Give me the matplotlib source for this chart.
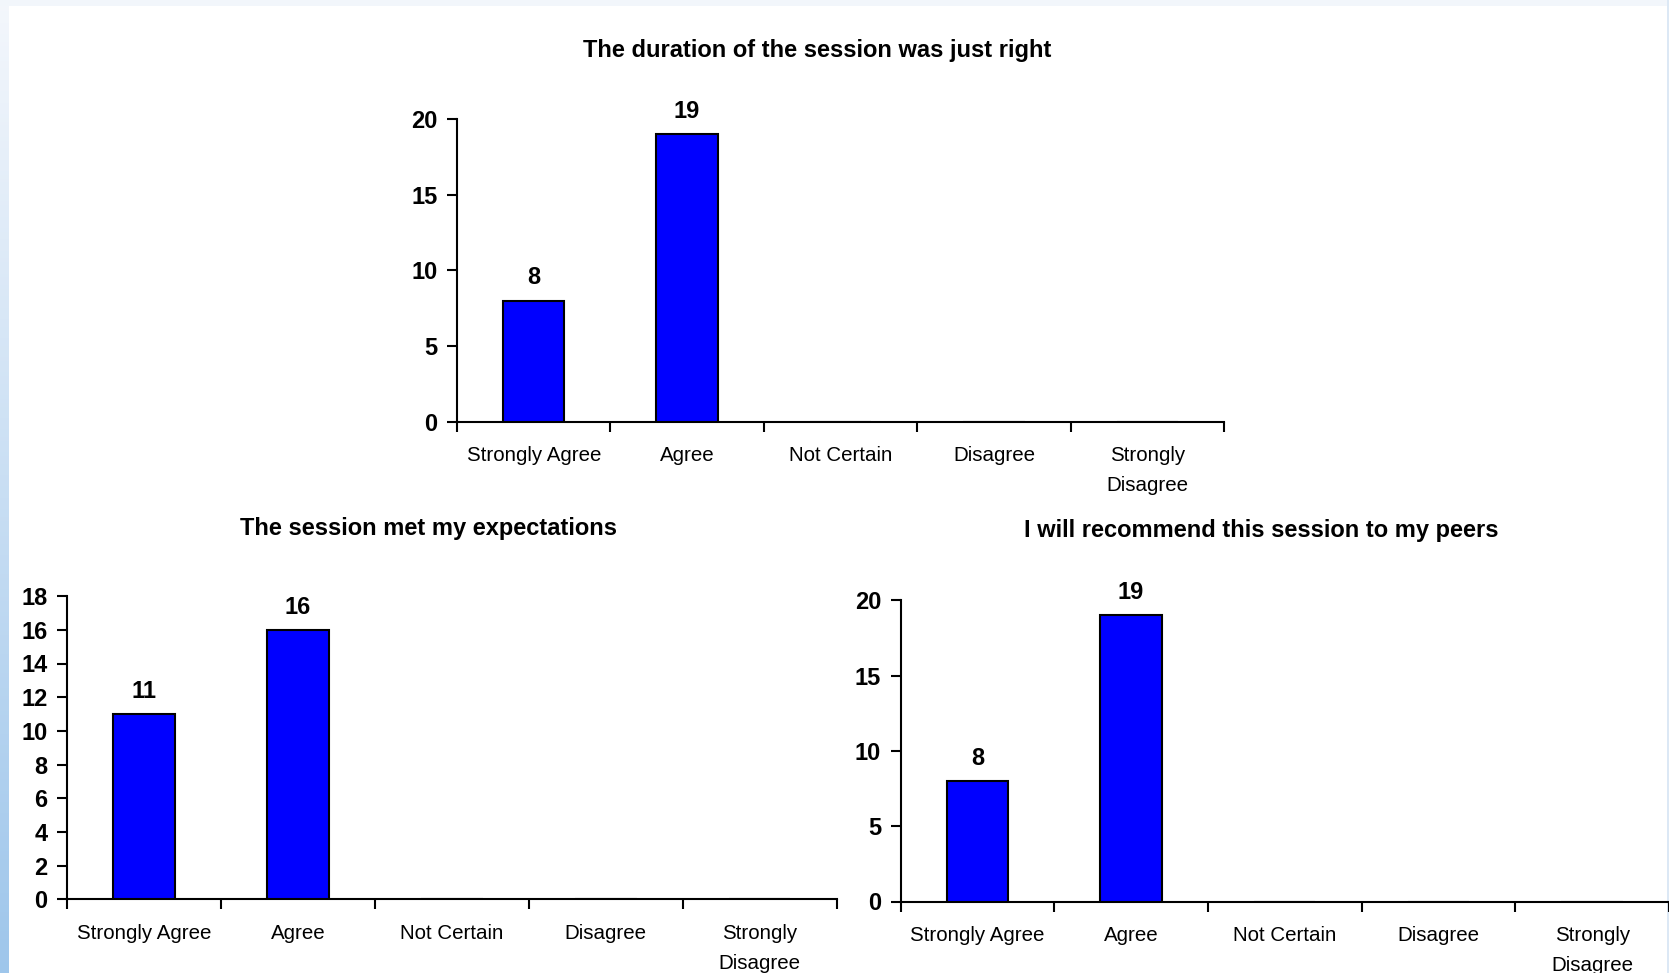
import numpy as np
import matplotlib.pyplot as plt
from matplotlib.colors import LinearSegmentedColormap

# survey answers (same scale for all three questions)
categories = ['Strongly Agree', 'Agree', 'Not Certain', 'Disagree', 'Strongly\nDisagree']
duration_counts = [8, 19, 0, 0, 0]
expectations_counts = [11, 16, 0, 0, 0]
recommend_counts = [8, 19, 0, 0, 0]

titles = ['The duration of the session was just right',
          'The session met my expectations',
          'I will recommend this session to my peers']

plt.rcParams['font.family'] = ['Liberation Sans', 'DejaVu Sans']

W, H = 1669, 973
fig = plt.figure(figsize=(W / 100, H / 100), dpi=100)
fig.patch.set_facecolor('white')

# slide background: light strips along the edges
bg = fig.add_axes([0, 0, 1, 1], zorder=-10)
bg.set_axis_off()
bg.set_xlim(0, 1)
bg.set_ylim(0, 1)
grad = np.linspace(0, 1, 256).reshape(-1, 1)
cmap = LinearSegmentedColormap.from_list('edge', ['#f4f7fc', '#9ec6eb'])
bg.imshow(grad, cmap=cmap, extent=[0, 9 / W, 0, 1], aspect='auto', origin='upper')
bg.axhspan(1 - 6 / H, 1, color='#f2f6fb', lw=0)
bg.axvspan(1667 / W, 1, color='#dce8f5', lw=0)


def draw(ax, counts, ymax, ystep):
    x = np.arange(len(categories)) + 0.5
    ax.bar(x, counts, width=0.4, color='#0000ff', edgecolor='black', linewidth=1.5, zorder=3)
    for xi, v in zip(x, counts):
        if v > 0:
            ax.annotate(str(v), (xi, v), xytext=(0, 8), textcoords='offset points',
                        ha='center', va='bottom', fontsize=17, fontweight='bold')
    ax.set_xlim(0, len(categories))
    ax.set_ylim(0, ymax)
    ax.set_yticks(np.arange(0, ymax + 1, ystep))
    # ticks sit between categories, labels in the middle of each slot
    ax.set_xticks(np.arange(len(categories) + 1))
    ax.set_xticklabels([])
    ax.set_xticks(x, minor=True)
    ax.set_xticklabels(categories, minor=True, fontsize=14.8, linespacing=1.75)
    ax.tick_params(axis='x', which='major', direction='out', length=7, width=1.5)
    ax.tick_params(axis='x', which='minor', length=0, pad=17.5)
    ax.tick_params(axis='y', direction='out', length=7, width=1.5, pad=7, labelsize=17)
    for t in ax.get_yticklabels():
        t.set_fontweight('bold')
    for s in ['top', 'right']:
        ax.spines[s].set_visible(False)
    for s in ['left', 'bottom']:
        ax.spines[s].set_linewidth(1.5)
    ax.set_facecolor('none')


ax1 = fig.add_axes([457 / W, 1 - 421.5 / H, (1224 - 457) / W, 302.3 / H])
draw(ax1, duration_counts, 20, 5)
ax2 = fig.add_axes([67 / W, 1 - 899.4 / H, (836.6 - 67) / W, 303.3 / H])
draw(ax2, expectations_counts, 18, 2)
ax3 = fig.add_axes([900.5 / W, 1 - 901.5 / H, 768.5 / W, 301.2 / H])
draw(ax3, recommend_counts, 20, 5)

fig.text(817 / W, 1 - 51 / H, titles[0], ha='center', va='center', fontsize=17, fontweight='bold')
fig.text(428 / W, 1 - 529 / H, titles[1], ha='center', va='center', fontsize=17, fontweight='bold')
fig.text(1261 / W, 1 - 530 / H, titles[2], ha='center', va='center', fontsize=17, fontweight='bold')

fig.savefig('out.png', dpi=100, facecolor=fig.get_facecolor())
